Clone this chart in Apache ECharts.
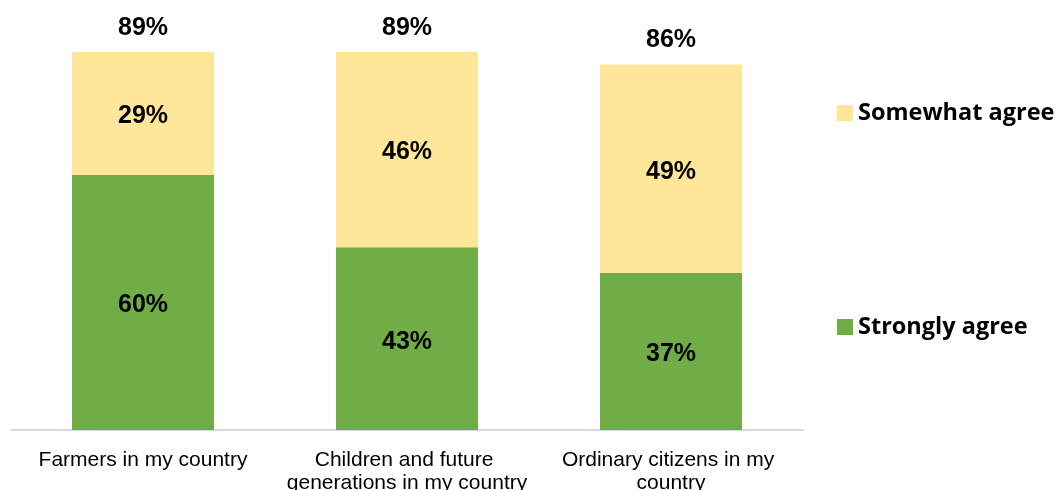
<!DOCTYPE html>
<html><head><meta charset="utf-8">
<script src="https://cdn.jsdelivr.net/npm/echarts@6/dist/echarts.min.js"></script>
<style>html,body{margin:0;padding:0;background:#fff}#c{width:1058px;height:490px}</style>
</head><body><div id="c"></div>
<script>
const categories = ['Farmers in my country', 'Children and future generations in my country', 'Ordinary citizens in my country'];
const strongly = [60, 43, 37];
const somewhat = [29, 46, 49];
const totals = [89, 89, 86];

const chart = echarts.init(document.getElementById('c'));
const lbl = {show: true, position: 'inside', offset: [0, 3], formatter: '{c}%', color: '#000', fontFamily: 'Liberation Sans, Arial', fontWeight: 'bold', fontSize: 25};
const legText = {fontFamily: 'Open Sans', fontWeight: 'bold', fontSize: 23.5, color: '#000'};
chart.setOption({
  animation: false,
  grid: {left: 11, right: 255, top: 5, bottom: 60, outerBoundsMode: 'none', containLabel: false},
  legend: [
    {data: ['Somewhat agree'], left: 837, top: 101, padding: 0, itemWidth: 16, itemHeight: 16, icon: 'rect', textStyle: legText},
    {data: ['Strongly agree'], left: 837, top: 315, padding: 0, itemWidth: 16, itemHeight: 16, icon: 'rect', textStyle: legText}
  ],
  xAxis: {type: 'category', data: categories,
    axisLine: {lineStyle: {color: '#d9d9d9', width: 2}}, axisTick: {show: false},
    axisLabel: {color: '#000', fontFamily: 'Liberation Sans, Arial', fontSize: 21, margin: 19, lineHeight: 23,
      width: 252, overflow: 'break', interval: 0}},
  yAxis: {type: 'value', min: 0, max: 100, show: false, splitLine: {show: false}},
  series: [
    {name: 'Strongly agree', type: 'bar', stack: 's', data: strongly, barWidth: 142, itemStyle: {color: '#70AD47'}, label: lbl},
    {name: 'Somewhat agree', type: 'bar', stack: 's', data: somewhat, barWidth: 142, itemStyle: {color: '#FFE699'}, label: lbl},
    {name: 'Total', type: 'scatter', data: totals, symbolSize: 1, itemStyle: {color: 'rgba(0,0,0,0)', opacity: 1}, silent: true,
     label: {show: true, position: 'top', distance: 11, formatter: '{c}%', color: '#000', fontFamily: 'Liberation Sans, Arial', fontWeight: 'bold', fontSize: 25}}
  ]
});
</script></body></html>
